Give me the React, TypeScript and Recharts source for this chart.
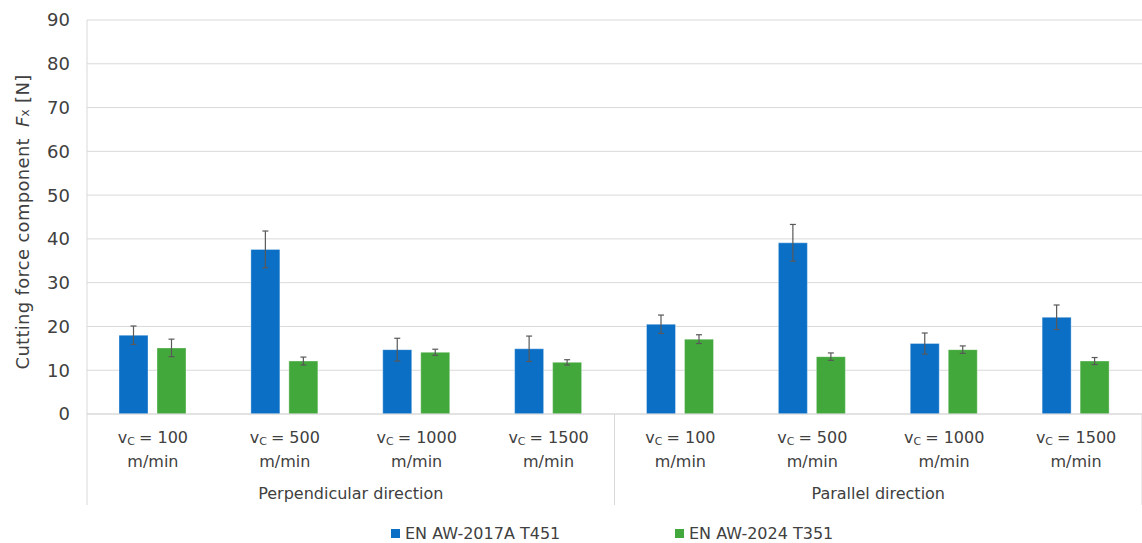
import React from "react";
import { BarChart, Bar, XAxis, YAxis, CartesianGrid, ErrorBar, Legend } from "recharts";

// Cutting speeds (m/min) for each group of bars
const speeds = ["100", "500", "1000", "1500", "100", "500", "1000", "1500"];
// Machining direction each speed belongs to
const directions = [
  "Perpendicular direction",
  "Perpendicular direction",
  "Perpendicular direction",
  "Perpendicular direction",
  "Parallel direction",
  "Parallel direction",
  "Parallel direction",
  "Parallel direction",
];
// Mean Fx [N] and standard deviation for each alloy
const alloy2017A = [18.0, 37.6, 14.7, 14.9, 20.5, 39.1, 16.1, 22.1];
const alloy2017AErr = [2.1, 4.2, 2.6, 2.9, 2.1, 4.2, 2.4, 2.8];
const alloy2024 = [15.1, 12.1, 14.1, 11.8, 17.1, 13.1, 14.7, 12.1];
const alloy2024Err = [2.0, 0.9, 0.7, 0.6, 1.0, 0.85, 0.85, 0.8];
const yTicks = [0, 10, 20, 30, 40, 50, 60, 70, 80, 90];

const series = [
  { key: "a2017", name: "EN AW-2017A T451", color: "#0B6FC6" },
  { key: "a2024", name: "EN AW-2024 T351", color: "#43A83C" },
];

const data = speeds.map((s, i) => ({
  speed: s,
  direction: directions[i],
  a2017: alloy2017A[i],
  a2017Err: alloy2017AErr[i],
  a2024: alloy2024[i],
  a2024Err: alloy2024Err[i],
}));

const FONT = "'DejaVu Sans', sans-serif";
const TEXT = "#404040";
const LINE = "#D9D9D9";

const SpeedTick = (props: any) => {
  const { x, y, payload } = props;
  return (
    <g>
      <text x={x} y={y + 21} textAnchor="middle" fontSize={16} fill={TEXT} fontFamily={FONT}>
        <tspan>v</tspan>
        <tspan fontSize={11} dy={2}>C</tspan>
        <tspan dy={-2} dx={4}>{`= ${payload.value}`}</tspan>
      </text>
      <text x={x} y={y + 45} textAnchor="middle" fontSize={16} fill={TEXT} fontFamily={FONT}>
        m/min
      </text>
    </g>
  );
};

const DirectionTick = (props: any) => {
  const { x, y, payload } = props;
  const half = payload.offset ?? 0;
  return (
    <g>
      <line x1={x - half} x2={x - half} y1={y - 78} y2={y + 13} stroke={LINE} strokeWidth={1} />
      <line x1={x + half} x2={x + half} y1={y - 78} y2={y + 13} stroke={LINE} strokeWidth={1} />
      <text x={x} y={y + 7} textAnchor="middle" fontSize={16} fill={TEXT} fontFamily={FONT}>
        {payload.value}
      </text>
    </g>
  );
};

const YTitle = (props: any) => {
  const vb = props.viewBox || { x: 0, y: 20, width: 87, height: 394 };
  const cx = 22;
  const cy = vb.y + vb.height / 2 + 5;
  return (
    <text
      x={cx}
      y={cy}
      transform={`rotate(-90 ${cx} ${cy})`}
      textAnchor="middle"
      dominantBaseline="central"
      fontSize={18}
      letterSpacing={0.3}
      fill={TEXT}
      fontFamily={FONT}
    >
      <tspan>{"Cutting force component"}</tspan>
      <tspan fontStyle="italic" dx={11}>F</tspan>
      <tspan fontSize={12} dy={3}>x</tspan>
      <tspan dy={-3}>{" [N]"}</tspan>
    </text>
  );
};

const LegendContent = () => (
  <div style={{ position: "relative", height: 34, fontFamily: FONT, fontSize: 16, color: TEXT }}>
    {series.map((s, i) => (
      <div
        key={s.key}
        style={{
          position: "absolute",
          left: i === 0 ? 391 : 675,
          top: 14,
          height: 20,
          display: "flex",
          alignItems: "center",
          whiteSpace: "nowrap",
        }}
      >
        <span style={{ display: "inline-block", width: 9, height: 9, background: s.color, marginRight: 5 }} />
        <span>{s.name}</span>
      </div>
    ))}
  </div>
);

export default function App() {
  return (
    <div style={{ position: "fixed", left: 0, top: 0, background: "#fff" }}>
      <BarChart
        width={1142}
        height={543}
        data={data}
        margin={{ top: 20, right: 0, left: 0, bottom: 0 }}
        barSize={29}
        barGap={9}
      >
        <CartesianGrid vertical={false} stroke={LINE} strokeWidth={1} />
        <XAxis
          dataKey="speed"
          height={70}
          tick={<SpeedTick />}
          tickLine={false}
          axisLine={{ stroke: LINE }}
          interval={0}
        />
        <XAxis
          xAxisId="dir"
          dataKey="direction"
          allowDuplicatedCategory={false}
          height={25}
          tick={<DirectionTick />}
          tickLine={false}
          axisLine={false}
          interval={0}
        />
        <YAxis
          width={87}
          domain={[0, 90]}
          ticks={yTicks}
          interval={0}
          tickLine={false}
          axisLine={{ stroke: LINE }}
          tickMargin={11}
          tick={{ fontSize: 18, fill: TEXT, fontFamily: FONT }}
          label={<YTitle />}
        />
        <Legend verticalAlign="bottom" height={34} content={<LegendContent />} />
        {series.map((s) => (
          <Bar
            key={s.key}
            dataKey={s.key}
            name={s.name}
            fill={s.color}
            stroke="#ffffff"
            strokeOpacity={0.35}
            strokeWidth={1}
            isAnimationActive={false}
          >
            <ErrorBar dataKey={`${s.key}Err`} width={3} stroke="#595959" strokeWidth={1.2} direction="y" />
          </Bar>
        ))}
      </BarChart>
    </div>
  );
}
